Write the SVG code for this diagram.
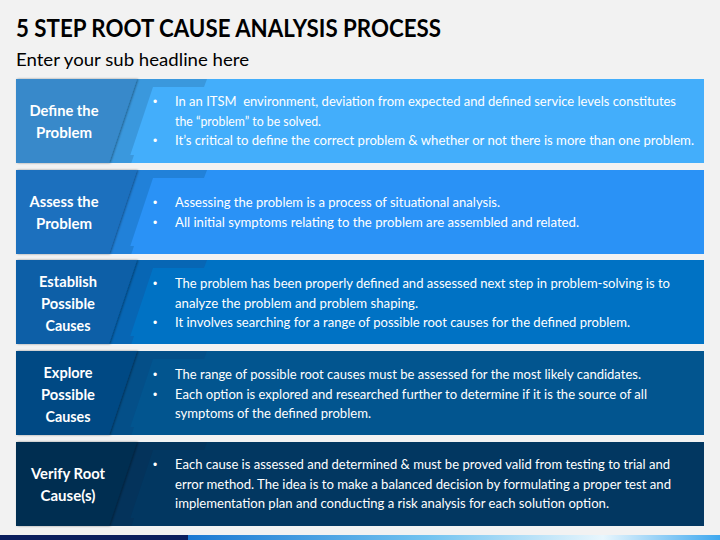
<svg xmlns="http://www.w3.org/2000/svg" width="720" height="540" viewBox="0 0 720 540">
<defs>
<style>
.title{font-family:Lato,"Open Sans","Liberation Sans",sans-serif;font-weight:bold;font-size:25px;fill:#000}
.sub{font-family:Lato,"Open Sans","Liberation Sans",sans-serif;font-size:17.5px;fill:#000}
.lbl{font-family:Lato,"Open Sans","Liberation Sans",sans-serif;font-weight:bold;font-size:15px;fill:#fff;text-anchor:middle}
.body{font-family:Lato,"Open Sans","Liberation Sans",sans-serif;font-size:13.3px;fill:#fff;white-space:pre}
.bul{font-family:"Liberation Sans",sans-serif;font-size:12px;fill:#fff}
</style>
<filter id="sh" x="-20%" y="-20%" width="140%" height="140%">
<feDropShadow dx="1.2" dy="0" stdDeviation="1.3" flood-color="#000" flood-opacity="0.4"/>
</filter>
<linearGradient id="band" x1="0" y1="0" x2="1" y2="0">
<stop offset="0" stop-color="#1a78d2"/>
<stop offset="0.45" stop-color="#72c3f0"/>
<stop offset="0.78" stop-color="#e8f6fd"/>
<stop offset="1" stop-color="#3ea8ef"/>
</linearGradient>
</defs>
<rect x="0" y="0" width="720" height="540" fill="#f2f2f2"/>
<text class="title" x="16" y="36.7" textLength="425" lengthAdjust="spacingAndGlyphs">5 STEP ROOT CAUSE ANALYSIS PROCESS</text>
<text class="sub" x="16" y="66" textLength="233" lengthAdjust="spacingAndGlyphs">Enter your sub headline here</text>

<g id="step1">
<rect x="16" y="79" width="688" height="84" fill="#3a98dd"/>
<polygon points="153,87 204,87 207,79 704,79 704,163 131.3,163 134,155 130.3,155" fill="#43aefb"/>
<polygon points="16,79 137,79 109,163 16,163" fill="#3889ca" filter="url(#sh)"/>
<text class="lbl" x="64" y="116" textLength="69" lengthAdjust="spacingAndGlyphs">Define the</text>
<text class="lbl" x="64" y="138" textLength="56" lengthAdjust="spacingAndGlyphs">Problem</text>
<text class="bul" x="153" y="105.5">•</text>
<text class="body" x="175" y="105.5" textLength="501" lengthAdjust="spacingAndGlyphs">In an ITSM  environment, deviation from expected and defined service levels constitutes</text>
<text class="body" x="175" y="125.5" textLength="146" lengthAdjust="spacingAndGlyphs">the “problem” to be solved.</text>
<text class="bul" x="153" y="144.5">•</text>
<text class="body" x="175" y="144.5" textLength="519" lengthAdjust="spacingAndGlyphs">It’s critical to define the correct problem &amp; whether or not there is more than one problem.</text>
</g>

<g id="step2">
<rect x="16" y="170" width="688" height="84" fill="#2181d9"/>
<polygon points="153,178 204,178 207,170 704,170 704,254 131.3,254 134,246 130.3,246" fill="#2a92f6"/>
<polygon points="16,170 137,170 109,254 16,254" fill="#1e6fbe" filter="url(#sh)"/>
<text class="lbl" x="64" y="207" textLength="69" lengthAdjust="spacingAndGlyphs">Assess the</text>
<text class="lbl" x="64" y="229" textLength="56" lengthAdjust="spacingAndGlyphs">Problem</text>
<text class="bul" x="153" y="206.5">•</text>
<text class="body" x="175" y="206.5" textLength="325" lengthAdjust="spacingAndGlyphs">Assessing the problem is a process of situational analysis.</text>
<text class="bul" x="153" y="226.5">•</text>
<text class="body" x="175" y="226.5" textLength="404" lengthAdjust="spacingAndGlyphs">All initial symptoms relating to the problem are assembled and related.</text>
</g>

<g id="step3">
<rect x="16" y="260" width="688" height="84" fill="#0766b4"/>
<polygon points="153,268 204,268 207,260 704,260 704,344 131.3,344 134,336 130.3,336" fill="#0072c4"/>
<polygon points="16,260 137,260 109,344 16,344" fill="#0b5ea7" filter="url(#sh)"/>
<text class="lbl" x="68" y="287" textLength="58" lengthAdjust="spacingAndGlyphs">Establish</text>
<text class="lbl" x="68" y="309" textLength="54" lengthAdjust="spacingAndGlyphs">Possible</text>
<text class="lbl" x="68" y="331" textLength="45" lengthAdjust="spacingAndGlyphs">Causes</text>
<text class="bul" x="153" y="287.5">•</text>
<text class="body" x="175" y="287.5" textLength="495" lengthAdjust="spacingAndGlyphs">The problem has been properly defined and assessed next step in problem-solving is to</text>
<text class="body" x="175" y="307.5" textLength="243" lengthAdjust="spacingAndGlyphs">analyze the problem and problem shaping.</text>
<text class="bul" x="153" y="326.5">•</text>
<text class="body" x="175" y="326.5" textLength="455" lengthAdjust="spacingAndGlyphs">It involves searching for a range of possible root causes for the defined problem.</text>
</g>

<g id="step4">
<rect x="16" y="351" width="688" height="84" fill="#044f88"/>
<polygon points="153,359 204,359 207,351 704,351 704,435 131.3,435 134,427 130.3,427" fill="#02558f"/>
<polygon points="16,351 137,351 109,435 16,435" fill="#064a84" filter="url(#sh)"/>
<text class="lbl" x="68" y="378" textLength="49" lengthAdjust="spacingAndGlyphs">Explore</text>
<text class="lbl" x="68" y="400" textLength="54" lengthAdjust="spacingAndGlyphs">Possible</text>
<text class="lbl" x="68" y="422" textLength="45" lengthAdjust="spacingAndGlyphs">Causes</text>
<text class="bul" x="153" y="378.5">•</text>
<text class="body" x="175" y="378.5" textLength="466" lengthAdjust="spacingAndGlyphs">The range of possible root causes must be assessed for the most likely candidates.</text>
<text class="bul" x="153" y="398.5">•</text>
<text class="body" x="175" y="398.5" textLength="472" lengthAdjust="spacingAndGlyphs">Each option is explored and researched further to determine if it is the source of all</text>
<text class="body" x="175" y="417.5" textLength="196" lengthAdjust="spacingAndGlyphs">symptoms of the defined problem.</text>
</g>

<g id="step5">
<rect x="16" y="442" width="688" height="84" fill="#04335b"/>
<polygon points="153,450 204,450 207,442 704,442 704,526 131.3,526 134,518 130.3,518" fill="#023761"/>
<polygon points="16,442 137,442 109,526 16,526" fill="#062d51" filter="url(#sh)"/>
<text class="lbl" x="68" y="479" textLength="74" lengthAdjust="spacingAndGlyphs">Verify Root</text>
<text class="lbl" x="68" y="500.5" textLength="55" lengthAdjust="spacingAndGlyphs">Cause(s)</text>
<text class="bul" x="153" y="468.5">•</text>
<text class="body" x="175" y="468.5" textLength="495" lengthAdjust="spacingAndGlyphs">Each cause is assessed and determined &amp; must be proved valid from testing to trial and</text>
<text class="body" x="175" y="488.5" textLength="496" lengthAdjust="spacingAndGlyphs">error method. The idea is to make a balanced decision by formulating a proper test and</text>
<text class="body" x="175" y="507.5" textLength="434" lengthAdjust="spacingAndGlyphs">implementation plan and conducting a risk analysis for each solution option.</text>
</g>

<rect x="0" y="535" width="188" height="5" fill="#0b1f5e"/>
<rect x="188" y="535" width="532" height="5" fill="url(#band)"/>
</svg>
